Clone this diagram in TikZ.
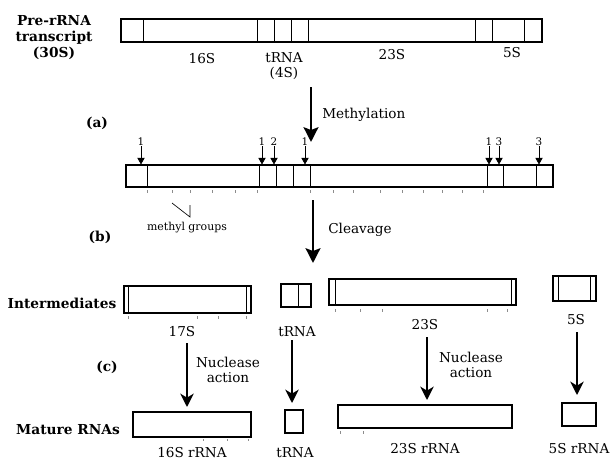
\documentclass[tikz,border=0pt]{standalone}
\usepackage{fontspec}
\setmainfont{DejaVu Serif}
\usetikzlibrary{arrows.meta,fit}
\begin{document}
\begin{tikzpicture}[x=0.75pt,y=-0.75pt,
  rbox/.style={draw, line width=0.8pt, inner sep=0pt},
  seg/.style={line width=0.7pt},
  tickmark/.style={line width=0.4pt, black!45},
  lbl/.style={font=\fontsize{10.2}{11}\selectfont, inner sep=0pt, align=center},
  blbl/.style={font=\bfseries\fontsize{10.3}{12}\selectfont, inner sep=0pt, align=center},
  num/.style={font=\fontsize{7.8}{8}\selectfont, inner sep=0pt},
  bigarrow/.style={line width=2.2pt, -{Stealth[length=11pt,width=11pt,inset=2pt]}},
  medarrow/.style={line width=2pt, -{Stealth[length=10pt,width=10pt,inset=3pt]}},
  markarrow/.style={line width=0.5pt, -{Triangle[length=5pt,width=5.5pt]}},
]
\useasboundingbox (0,0) rectangle (611,462);

% ---- Row 1: pre-rRNA transcript
\node[rbox, fit={(121,19) (542,42)}] (pre) {};
\foreach \x in {143,257,274,291,308,475,492,524} \draw[seg] (\x,19) -- (\x,42);
\node[blbl] (prelbl) at (54,38) {Pre-rRNA\\transcript\\(30S)};
\node[lbl] (l16) at (202,59) {16S};
\node[lbl] (ltrna) at (284,66) {tRNA\\(4S)};
\node[lbl] (l23) at (392,55) {23S};
\node[lbl] (l5) at (512,53) {5S};

% ---- step (a)
\node[blbl] (la) at (97,123) {(a)};
\coordinate (ma) at (311,87);
\coordinate (mb) at (311,142);
\draw[bigarrow] (ma) -- (mb);
\node[lbl, anchor=west] (meth) at (322,115) {Methylation};

% ---- Row 2: methylated transcript
\node[rbox, fit={(126,165) (553,187)}] (mt) {};
\foreach \x in {147,259,276,293,310,487,503,536} \draw[seg] (\x,165) -- (\x,187);
\foreach \x/\n in {141/1,262/1,274/2,305/1,489/1,499/3,539/3}{
  \node[num] (n\x) at (\x,142) {\n};
  \draw[markarrow] (n\x) -- (n\x |- mt.north);
}
\foreach \x in {147,172,190,212,235,257,310,333,353,380,402,423,442,462,483}
  \draw[tickmark] (\x,190) -- (\x,193);
\node[font=\fontsize{8.2}{9}\selectfont, inner sep=0pt] (mg) at (187,228) {methyl groups};
\coordinate (mga) at (172,203);
\coordinate (mgb) at (190,217);
\coordinate (mgc) at (190,205);
\draw[line width=0.5pt] (mga) -- (mgb) -- (mgc);

% ---- step (b)
\node[blbl] (lb) at (100,237) {(b)};
\coordinate (ca) at (313,200);
\coordinate (cb) at (313,263);
\draw[bigarrow] (ca) -- (cb);
\node[lbl, anchor=west] (clv) at (328,230) {Cleavage};

% ---- Row 3: intermediates
\node[blbl] (linter) at (62,303) {Intermediates};
\node[rbox, fit={(124,286) (251,313)}] (i17) {};
\draw[seg] (128,286) -- (128,313);
\draw[seg] (246,286) -- (246,313);
\node[rbox, fit={(281,284) (311,307)}] (itr) {};
\draw[seg] (298,284) -- (298,307);
\node[rbox, fit={(329,279) (516,305)}] (i23) {};
\draw[seg] (335,279) -- (335,305);
\draw[seg] (511,279) -- (511,305);
\node[rbox, fit={(553,276) (596,301)}] (i5) {};
\draw[seg] (558,276) -- (558,301);
\draw[seg] (590,276) -- (590,301);
\foreach \x in {128,197,218,246} \draw[tickmark] (\x,316) -- (\x,319);
\foreach \x in {335,360,382,487,507} \draw[tickmark] (\x,309) -- (\x,312);
\node[lbl] (l17) at (182,332) {17S};
\node[lbl] (ltr2) at (297,332) {tRNA};
\node[lbl] (l232) at (425,325) {23S};
\node[lbl] (l52) at (576,320) {5S};

% ---- step (c)
\node[blbl] (lc) at (107,367) {(c)};
\node[lbl] (nuc1) at (228,370) {Nuclease\\action};
\node[lbl] (nuc2) at (471,365) {Nuclease\\action};

% ---- Row 4: mature RNAs
\node[blbl] (lmat) at (68,430) {Mature RNAs};
\node[rbox, fit={(133,412) (251,437)}] (m16) {};
\node[rbox, fit={(285,410) (303,433)}] (mtr) {};
\node[rbox, fit={(338,405) (512,428)}] (m23) {};
\node[rbox, fit={(562,403) (596,426)}] (m5) {};
\foreach \x in {203,227,248} \draw[tickmark] (\x,439) -- (\x,441);
\foreach \x in {340,363} \draw[tickmark] (\x,431) -- (\x,434);
\node[lbl] (l16r) at (192,453) {16S rRNA};
\node[lbl] (ltr3) at (295,453) {tRNA};
\node[lbl] (l23r) at (425,449) {23S rRNA};
\node[lbl] (l5r) at (579,449) {5S rRNA};

% ---- arrows intermediates -> mature
\coordinate (a17) at (187,343); \coordinate (b17) at (187,407);
\coordinate (atr) at (292,340); \coordinate (btr) at (292,403);
\coordinate (a23) at (427,337); \coordinate (b23) at (427,400);
\coordinate (a5) at (577,332);  \coordinate (b5) at (577,395);
\draw[medarrow] (a17) -- (b17);
\draw[medarrow] (atr) -- (btr);
\draw[medarrow] (a23) -- (b23);
\draw[medarrow] (a5) -- (b5);
\end{tikzpicture}
\end{document}
